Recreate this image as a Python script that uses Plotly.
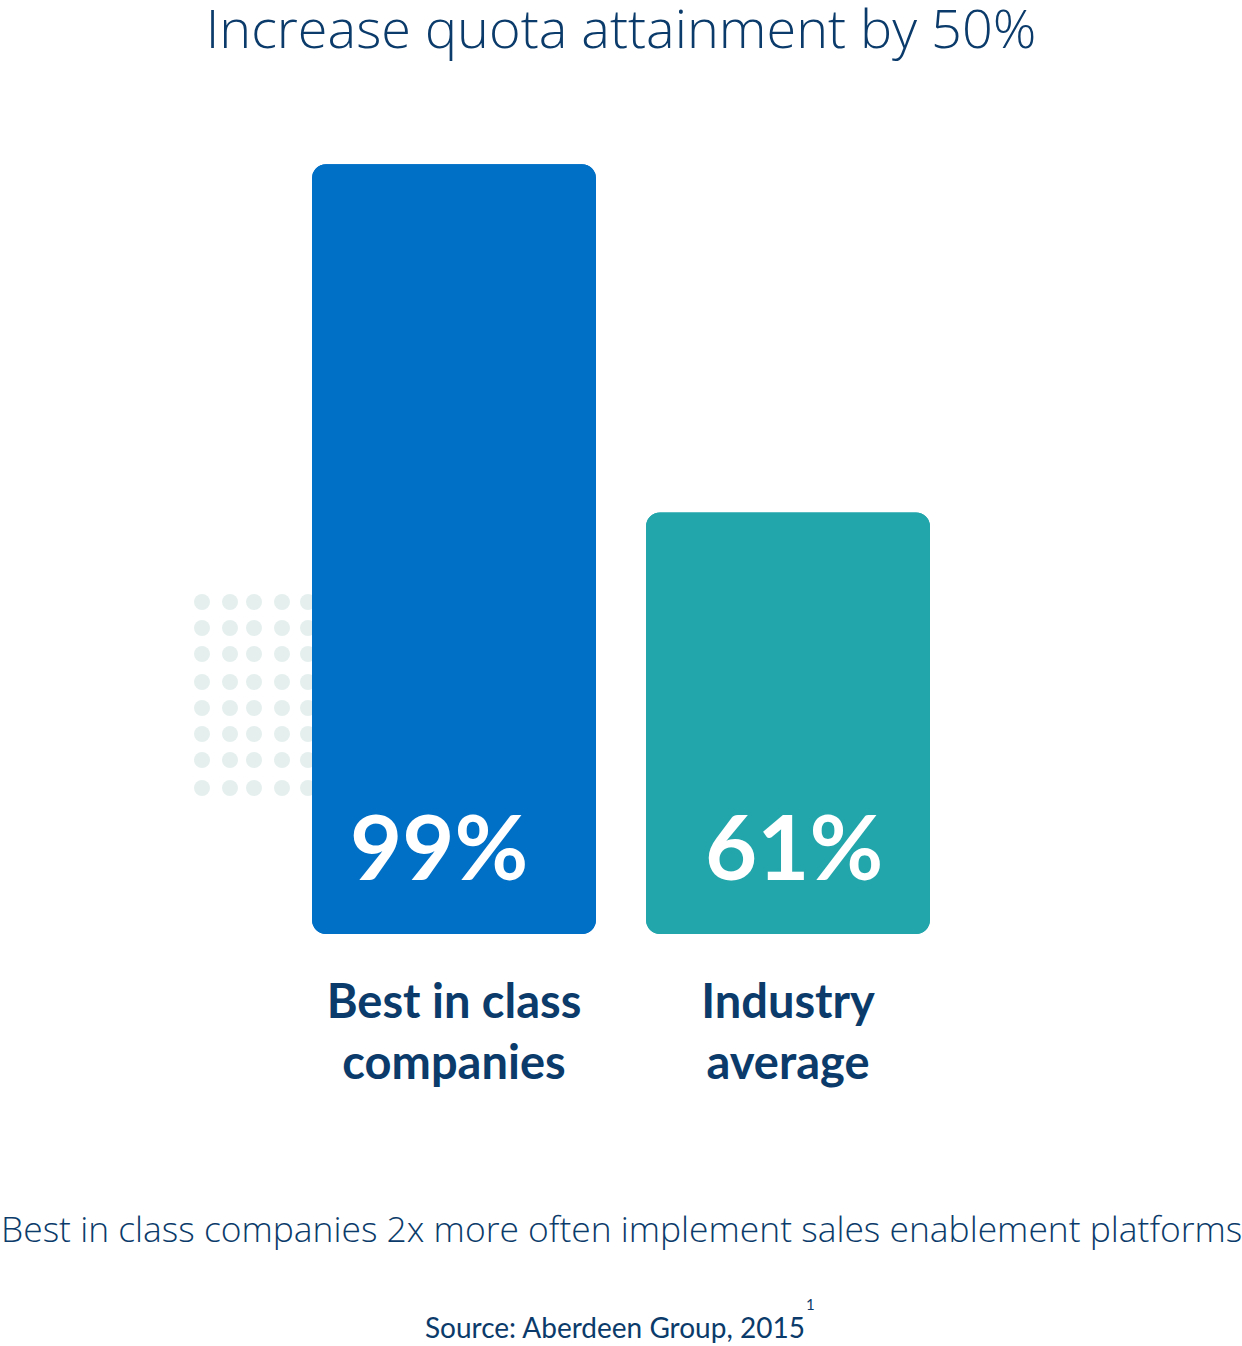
import plotly.graph_objects as go

# ---- data ----
categories = ["Best in class<br>companies", "Industry<br>average"]
values = [99, 61]
value_labels = ["99%", "61%"]
baseline = 15
bar_colors = ["#006fc6", "#23a6ab"]

title_text = "Increase quota attainment by 50%"
subtitle_text = "Best in class companies 2x more often implement sales enablement platforms"
source_text = "Source: Aberdeen Group, 2015"

# ---- layout geometry (pixels) ----
W, H = 1242, 1346
ML, MR, MT, MB = 287, 287, 155, 412
PW = W - ML - MR
PH = H - MT - MB
NAVY = "#0b3b6a"

x_idx = list(range(len(categories)))

fig = go.Figure()
# top-rounded part
fig.add_trace(go.Bar(
    x=x_idx, y=[v - baseline for v in values], base=[baseline] * len(values),
    marker=dict(color=bar_colors, cornerradius=14, line=dict(width=0)),
    width=0.85, hoverinfo="skip", showlegend=False,
))
# bottom-rounded part (drawn from the top down to the baseline)
fig.add_trace(go.Bar(
    x=x_idx, y=[baseline - v for v in values], base=values,
    marker=dict(color=bar_colors, cornerradius=14, line=dict(width=0)),
    width=0.85, hoverinfo="skip", showlegend=False,
))

# decorative dot grid (pixel positions -> paper coords), drawn below the bars
dot_cols_px = [202, 230, 254, 282, 308]
dot_rows_px = [602, 628, 654, 682, 708, 734, 760, 788]
r = 8
shapes = []
for cx in dot_cols_px:
    for cy in dot_rows_px:
        shapes.append(dict(
            type="circle", xref="paper", yref="paper", layer="below",
            x0=(cx - r - ML) / PW, x1=(cx + r - ML) / PW,
            y0=(MT + PH - (cy + r)) / PH, y1=(MT + PH - (cy - r)) / PH,
            fillcolor="#e5f0ee", line=dict(width=0),
        ))

annotations = []
label_xshift = [-15, 6]
for i, lab in enumerate(value_labels):
    annotations.append(dict(
        x=x_idx[i], y=baseline, xref="x", yref="y", text=lab, showarrow=False,
        yanchor="middle", yshift=89, xshift=label_xshift[i],
        font=dict(family="Lato", size=90, color="white", weight=700),
    ))

def py(px):
    return (MT + PH - px) / PH

annotations.append(dict(
    x=0.5, y=py(1228), xref="paper", yref="paper", text=subtitle_text,
    showarrow=False, xanchor="center", yanchor="middle",
    font=dict(family="Open Sans", size=35.4, color=NAVY, weight=300),
))
annotations.append(dict(
    x=(615 - ML) / PW, y=py(1327), xref="paper", yref="paper", text=source_text,
    showarrow=False, xanchor="center", yanchor="middle",
    font=dict(family="Lato", size=28, color=NAVY),
))
annotations.append(dict(
    x=(810 - ML) / PW, y=py(1304), xref="paper", yref="paper", text="1",
    showarrow=False, xanchor="center", yanchor="middle",
    font=dict(family="Lato", size=15, color=NAVY),
))

fig.update_layout(
    width=W, height=H,
    margin=dict(l=ML, r=MR, t=MT, b=MB, pad=0),
    paper_bgcolor="white", plot_bgcolor="white",
    barmode="overlay",
    title=dict(text=title_text, x=0.5, xanchor="center", xref="paper",
               y=1 - 29 / H, yanchor="middle", yref="container",
               font=dict(family="Open Sans", size=54, color=NAVY, weight=300)),
    xaxis=dict(range=[-0.5, 1.5], tickvals=x_idx, ticktext=categories,
               showgrid=False, zeroline=False, showline=False, ticks="",
               ticklabelstandoff=36,
               tickfont=dict(family="Lato", size=47, color=NAVY, weight=700)),
    yaxis=dict(range=[baseline, 100], showgrid=False, zeroline=False,
               showline=False, showticklabels=False, ticks=""),
    shapes=shapes, annotations=annotations,
    hovermode=False,
)

fig.write_html("out.html", config={"displayModeBar": False},
               post_script="document.body.style.margin='0';")
